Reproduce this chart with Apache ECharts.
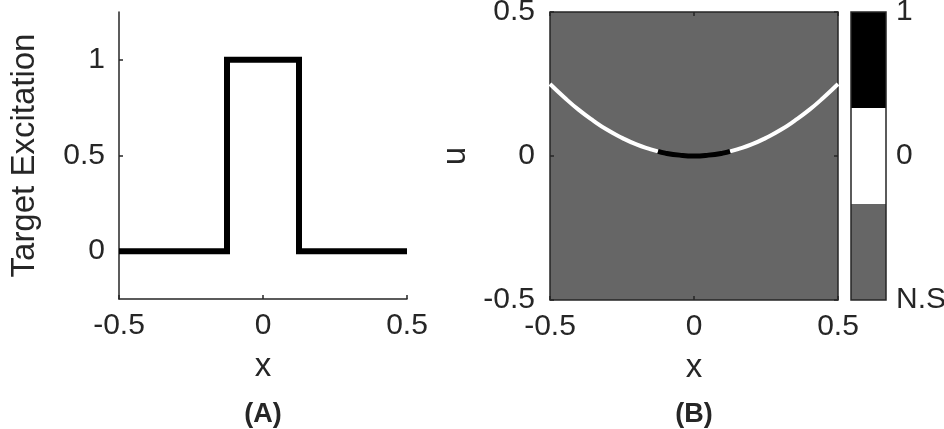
<!DOCTYPE html>
<html>
<head>
<meta charset="utf-8">
<script src="https://cdn.jsdelivr.net/npm/echarts@6/dist/echarts.min.js"></script>
<style>
html,body{margin:0;padding:0;background:#fff;}
#chart{width:944px;height:429px;}
</style>
</head>
<body>
<div id="chart"></div>
<script>
// ---- data ----
const stepX = [-0.5, -0.125, -0.125, 0.125, 0.125, 0.5];
const stepY = [0, 0, 1, 1, 0, 0];
const xTicks = [-0.5, 0, 0.5];
const leftYTicks = [0, 0.5, 1];
const uTicks = [-0.5, 0, 0.5];
const whiteLeftX = [-0.5, -0.45, -0.4, -0.35, -0.3, -0.25, -0.2, -0.15, -0.125];
const whiteLeftU = [0.25, 0.203, 0.16, 0.123, 0.09, 0.063, 0.04, 0.023, 0.016];
const blackX = [-0.125, -0.1, -0.05, 0, 0.05, 0.1, 0.125];
const blackU = [0.016, 0.01, 0.003, 0, 0.003, 0.01, 0.016];
const whiteRightX = [0.125, 0.15, 0.2, 0.25, 0.3, 0.35, 0.4, 0.45, 0.5];
const whiteRightU = [0.016, 0.023, 0.04, 0.063, 0.09, 0.123, 0.16, 0.203, 0.25];
const cbLabels = ['N.S', '0', '1'];
const cbStart = [0, 1, 2];
const cbEnd = [1, 2, 3];
const cbColors = ['#666666', '#ffffff', '#000000'];
const panelLabels = ['(A)', '(B)'];

const FONT = "'Liberation Sans', Arial, sans-serif";
const TXT = '#262626';
const zip = (a, b) => a.map((v, i) => [v, b[i]]);

const chart = echarts.init(document.getElementById('chart'));

const axisLineStyle = { color: '#262626', width: 1.5 };
const tickLabel = { color: TXT, fontSize: 30, fontFamily: FONT };

const option = {
  animation: false,
  backgroundColor: '#ffffff',
  grid: [
    { left: 119, top: 12, width: 288, height: 287, show: false, outerBoundsMode: 'none', containLabel: false },
    { left: 550, top: 12, width: 288, height: 288, show: true, backgroundColor: '#666666', borderColor: '#262626', borderWidth: 1.5, outerBoundsMode: 'none', containLabel: false },
    { left: 851, top: 12, width: 35, height: 288, show: false, outerBoundsMode: 'none', containLabel: false }
  ],
  xAxis: [
    { gridIndex: 0, type: 'value', min: -0.5, max: 0.5, interval: 0.5,
      name: 'x', nameLocation: 'middle', nameGap: 51,
      nameTextStyle: { color: TXT, fontSize: 33, fontFamily: FONT },
      axisLine: { show: true, onZero: false, lineStyle: axisLineStyle },
      axisTick: { show: true, inside: true, length: 4, lineStyle: axisLineStyle },
      axisLabel: Object.assign({ margin: 12, customValues: xTicks }, tickLabel),
      splitLine: { show: false } },
    { gridIndex: 1, type: 'value', min: -0.5, max: 0.5, interval: 0.5,
      name: 'x', nameLocation: 'middle', nameGap: 51,
      nameTextStyle: { color: TXT, fontSize: 33, fontFamily: FONT },
      axisLine: { show: false, onZero: false },
      axisTick: { show: true, inside: true, length: 4, lineStyle: axisLineStyle },
      axisLabel: Object.assign({ margin: 12, customValues: xTicks }, tickLabel),
      splitLine: { show: false } },
    { gridIndex: 1, type: 'value', position: 'top', min: -0.5, max: 0.5, interval: 0.5,
      axisLine: { show: false, onZero: false },
      axisTick: { show: true, inside: true, length: 4, lineStyle: axisLineStyle },
      axisLabel: { show: false }, splitLine: { show: false } },
    { gridIndex: 2, type: 'value', min: 0, max: 1,
      axisLine: { show: false }, axisTick: { show: false }, axisLabel: { show: false }, splitLine: { show: false } }
  ],
  yAxis: [
    { gridIndex: 0, type: 'value', min: -0.25, max: 1.25,
      name: 'Target Excitation', nameLocation: 'middle', nameGap: 78,
      nameTextStyle: { color: TXT, fontSize: 33, fontFamily: FONT },
      axisLine: { show: true, onZero: false, lineStyle: axisLineStyle },
      axisTick: { show: true, inside: true, length: 4, lineStyle: axisLineStyle, customValues: leftYTicks },
      axisLabel: Object.assign({ margin: 14, customValues: leftYTicks }, tickLabel),
      splitLine: { show: false } },
    { gridIndex: 1, type: 'value', min: -0.5, max: 0.5, interval: 0.5,
      name: 'u', nameLocation: 'middle', nameGap: 78,
      nameTextStyle: { color: TXT, fontSize: 33, fontFamily: FONT },
      axisLine: { show: false, onZero: false },
      axisTick: { show: true, inside: true, length: 4, lineStyle: axisLineStyle },
      axisLabel: Object.assign({ margin: 15, customValues: uTicks }, tickLabel),
      splitLine: { show: false } },
    { gridIndex: 1, type: 'value', position: 'right', min: -0.5, max: 0.5, interval: 0.5,
      axisLine: { show: false, onZero: false },
      axisTick: { show: true, inside: true, length: 4, lineStyle: axisLineStyle },
      axisLabel: { show: false }, splitLine: { show: false } },
    { gridIndex: 2, type: 'value', position: 'right', min: 0, max: 3, interval: 1.5,
      axisLine: { show: false, onZero: false },
      axisTick: { show: true, inside: true, length: 4, lineStyle: axisLineStyle, customValues: [1.5] },
      axisLabel: { color: TXT, fontSize: 30, fontFamily: FONT, margin: 10,
        formatter: v => cbLabels[Math.round(v / 1.5)] },
      splitLine: { show: false } }
  ],
  series: [
    { type: 'line', xAxisIndex: 0, yAxisIndex: 0, data: zip(stepX, stepY),
      showSymbol: false, symbol: 'none',
      lineStyle: { color: '#000', width: 6, join: 'miter', cap: 'butt' } },
    { type: 'line', xAxisIndex: 1, yAxisIndex: 1, data: zip(whiteLeftX, whiteLeftU),
      smooth: true, symbol: 'none', clip: true,
      lineStyle: { color: '#ffffff', width: 4, cap: 'butt' } },
    { type: 'line', xAxisIndex: 1, yAxisIndex: 1, data: zip(whiteRightX, whiteRightU),
      smooth: true, symbol: 'none', clip: true,
      lineStyle: { color: '#ffffff', width: 4, cap: 'butt' } },
    { type: 'line', xAxisIndex: 1, yAxisIndex: 1, data: zip(blackX, blackU),
      smooth: true, symbol: 'none', clip: true,
      lineStyle: { color: '#000000', width: 5, cap: 'butt' } },
    { type: 'custom', xAxisIndex: 3, yAxisIndex: 3,
      data: cbStart.map((s, i) => [s, cbEnd[i], i]),
      encode: { y: [0, 1] },
      renderItem: (params, api) => {
        const s = api.value(0), e = api.value(1), idx = api.value(2);
        const p0 = api.coord([0, s]);
        const p1 = api.coord([1, e]);
        return { type: 'rect',
          shape: { x: p0[0], y: p1[1], width: p1[0] - p0[0], height: p0[1] - p1[1] },
          style: { fill: cbColors[idx] } };
      } }
  ],
  graphic: [
    { type: 'rect', shape: { x: 851, y: 12, width: 35, height: 288 }, z: 10,
      style: { fill: 'none', stroke: '#262626', lineWidth: 1.5 } },
    { type: 'text', x: 263, y: 415, z: 10,
      style: { text: panelLabels[0], font: 'bold 27px ' + FONT, fill: TXT, textAlign: 'center', textVerticalAlign: 'middle' } },
    { type: 'text', x: 694, y: 415, z: 10,
      style: { text: panelLabels[1], font: 'bold 27px ' + FONT, fill: TXT, textAlign: 'center', textVerticalAlign: 'middle' } }
  ]
};
chart.setOption(option);
</script>
</body>
</html>
